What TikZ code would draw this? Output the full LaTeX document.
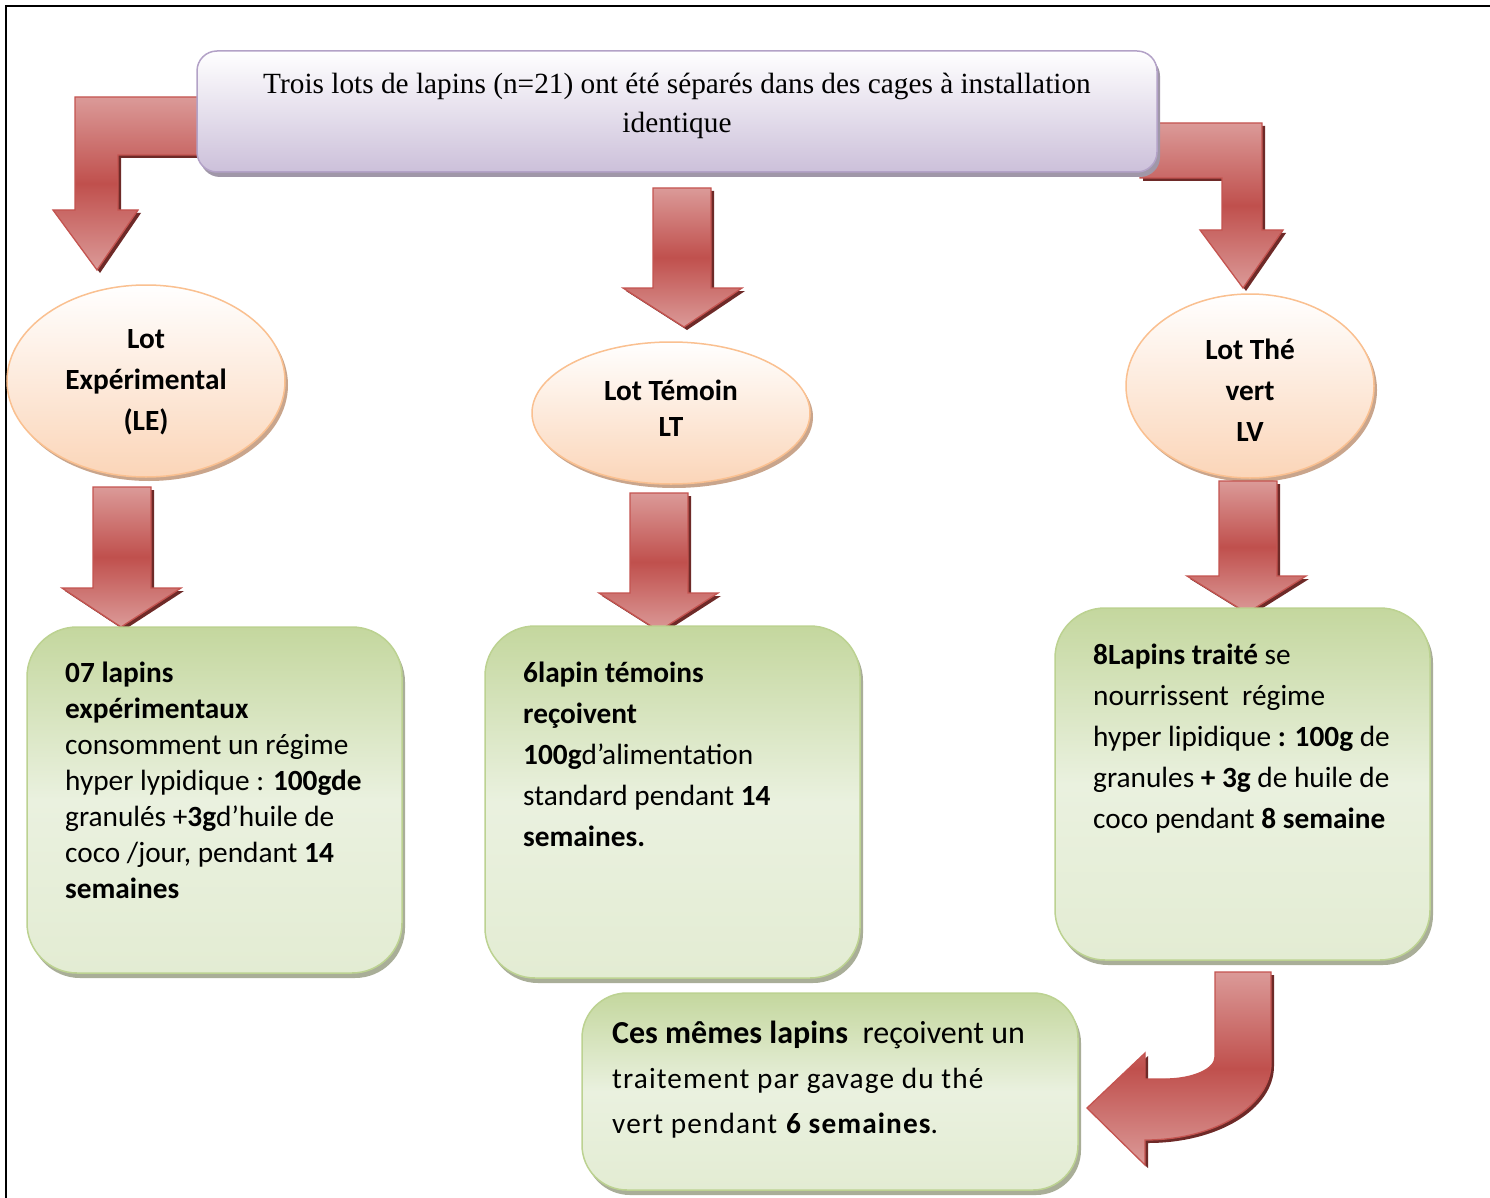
\documentclass[tikz,border=0pt]{standalone}
\usepackage{fontspec}
\setmainfont{Liberation Serif}
\newfontfamily\calfont{Carlito}
\newfontfamily\calwide[LetterSpace=3.8]{Carlito}
\usetikzlibrary{shapes.geometric,shadows}
\definecolor{arrlight}{HTML}{DB9A98}
\definecolor{arrdark}{HTML}{C0504D}
\definecolor{arrline}{HTML}{C45450}
\definecolor{arrshadow}{HTML}{6E2A28}
\definecolor{topline}{HTML}{B3A2C7}
\definecolor{toplow}{HTML}{CCC0DA}
\definecolor{topshadow}{HTML}{A097A8}
\definecolor{ellline}{HTML}{FAC090}
\definecolor{elllow}{HTML}{FBD5B8}
\definecolor{ellshadow}{HTML}{C9A58C}
\definecolor{grline}{HTML}{BCD291}
\definecolor{grdark}{HTML}{C4D79E}
\definecolor{grlight}{HTML}{EAF1DF}
\definecolor{grmid}{HTML}{E3ECD3}
\definecolor{grshadow}{HTML}{A9AE98}
\tikzset{
  blockarrow/.style={draw=arrline, line width=1.3pt, shading=axis,
    top color=arrlight, bottom color=arrlight, middle color=arrdark,
    drop shadow={shadow xshift=3pt, shadow yshift=-3pt, fill=arrshadow, opacity=1}},
  topbox/.style={draw=topline, line width=1.5pt, rounded corners=20pt, shading=axis,
    top color=white, bottom color=toplow,
    drop shadow={shadow xshift=3pt, shadow yshift=-5pt, fill=topshadow, opacity=1}},
  lotell/.style={ellipse, draw=ellline, line width=1.5pt, inner sep=0pt, shading=axis,
    top color=white, bottom color=elllow,
    drop shadow={shadow xshift=3pt, shadow yshift=-4pt, fill=ellshadow, opacity=1}},
  greenbox/.style={draw=grline, line width=1.5pt, rounded corners=50pt, shading=axis,
    shading angle=-35, top color=grdark, bottom color=grmid, middle color=grlight,
    drop shadow={shadow xshift=3pt, shadow yshift=-5pt, fill=grshadow, opacity=1}},
  elltext/.style={font=\calfont\bfseries\fontsize{29.3}{41}\selectfont, align=center, inner sep=0pt},
  boxtext/.style={font=\calfont\fontsize{29.3}{#1}\selectfont, align=left, inner sep=0pt, anchor=north west},
}
\begin{document}
\begin{tikzpicture}[x=1pt,y=-1pt]
\useasboundingbox (0,0) rectangle (1490,1198);
\fill[white] (0,0) rectangle (1490,1198);
% frame
\draw[line width=2.2pt] (6,1198) -- (6,6) -- (1490,6);
% elbow arrows behind the top box
\path[blockarrow] (205,97) -- (75,97) -- (75,210) -- (53,210) -- (97,270) -- (138,210) -- (118,210) -- (118,155) -- (205,155) -- cycle;
\path[blockarrow] (1140,123) -- (1262,123) -- (1262,230) -- (1283,230) -- (1243,288) -- (1200,230) -- (1222,230) -- (1222,178) -- (1140,178) -- cycle;
% top box
\path[topbox] (197,51) rectangle (1157,172);
\node[font=\fontsize{29.3}{39}\selectfont, align=center, inner sep=0pt] (top) at (677,106)
  {Trois lots de lapins (n=21) ont été séparés dans des cages à installation\\identique};
% middle arrow 1
\path[blockarrow] (653,188) -- (711,188) -- (711,288) -- (742,288) -- (684,327) -- (623,288) -- (653,288) -- cycle;
% ellipses
\node[lotell, minimum width=278pt, minimum height=192pt] (le) at (146,381) {};
\node[lotell, minimum width=278pt, minimum height=142pt] (lt) at (671,413) {};
\node[lotell, minimum width=248pt, minimum height=184pt] (lv) at (1250,386) {};
\node[elltext] (letext) at (146,382) {Lot\\Expérimental\\(LE)};
\node[elltext, font=\calfont\bfseries\fontsize{29.3}{36}\selectfont] (lttext) at (671,408) {Lot Témoin\\LT};
\node[elltext] (lvtext) at (1250,390) {Lot Thé\\vert\\LV};
% down arrows 2
\path[blockarrow] (93,487) -- (151,487) -- (151,588) -- (181,588) -- (121,627) -- (62,588) -- (93,588) -- cycle;
\path[blockarrow] (630,493) -- (688,493) -- (688,593) -- (718,593) -- (659,631) -- (599,593) -- (630,593) -- cycle;
\path[blockarrow] (1219,481) -- (1277,481) -- (1277,576) -- (1306,576) -- (1247,613) -- (1187,576) -- (1219,576) -- cycle;
% green boxes
\path[greenbox] (27,627) rectangle (402,973);
\path[greenbox] (485,626) rectangle (860,978);
\path[greenbox] (1055,608) rectangle (1430,960);
\path[greenbox, rounded corners=45pt] (582,993) rectangle (1078,1190);
\node[boxtext=36] (t1) at (65,662) {\textbf{07 lapins}\\\textbf{expérimentaux}\\consomment un régime\\hyper lypidique : \textbf{100gde}\\granulés +\textbf{3g}d’huile de\\coco /jour, pendant \textbf{14}\\\textbf{semaines}};
\node[boxtext=41] (t2) at (523,662) {\textbf{6lapin témoins}\\\textbf{reçoivent}\\\textbf{100g}d’alimentation\\standard pendant \textbf{14}\\\textbf{semaines.}};
\node[boxtext=41] (t3) at (1093,644) {\textbf{8Lapins traité} se\\nourrissent \ régime\\hyper lipidique \textbf{: 100g} de\\granules \textbf{+ 3g} de huile de\\coco pendant \textbf{8 semaine}};
\node[boxtext=45] (t4) at (612,1021) {\fontsize{32}{45}\selectfont\textbf{Ces mêmes lapins} \ reçoivent un\\{\calwide traitement par gavage du thé}\\{\calwide vert pendant \textbf{6 semaines}.}};
% curved arrow
\path[blockarrow] (1215,972) -- (1271,972) -- (1271,1063) .. controls (1271,1106) and (1215,1140) .. (1145,1140) -- (1145,1165) -- (1087,1108) -- (1145,1053) -- (1145,1079) -- (1165,1079) .. controls (1193,1079) and (1215,1069) .. (1215,1057) -- cycle;
\end{tikzpicture}
\end{document}
